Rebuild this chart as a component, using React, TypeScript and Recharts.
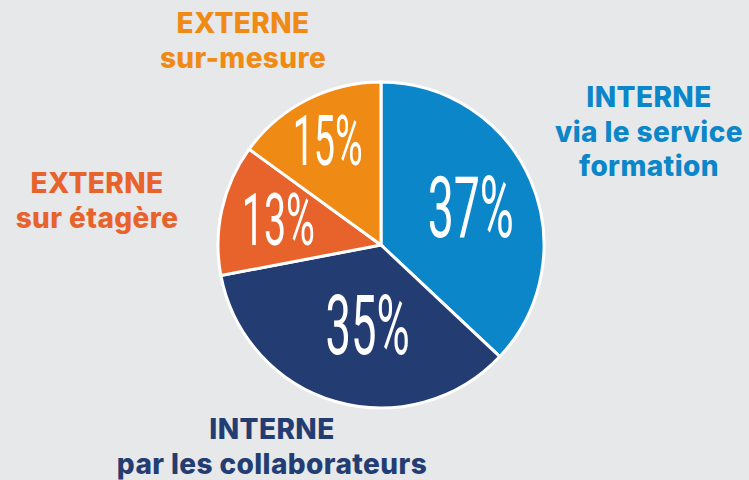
import React from "react";
import { PieChart, Pie, Cell } from "recharts";

const categories = [
  ["INTERNE", "via le service", "formation"],
  ["INTERNE", "par les collaborateurs"],
  ["EXTERNE", "sur étagère"],
  ["EXTERNE", "sur-mesure"],
];
const shares = [37, 35, 13, 15];

const COLORS = ["#0a86c9", "#233d72", "#e8632b", "#ef8b14"];
const BG = "#e7e8ea";

// per-slice placement of the percentage (fraction of radius + small nudge) and its size
const PCT_RADIUS = [0.6, 0.49, 0.645, 0.72];
const PCT_NUDGE = [
  [0, 0],
  [9, 2],
  [0, -3],
  [0, 0],
];
const PCT_SIZE = [86, 84, 73, 70];
// outside captions: centre x and first baseline
const CAPTION_POS = [
  { x: 649, y: 107 },
  { x: 272, y: 439 },
  { x: 97, y: 193 },
  { x: 243, y: 33 },
];
const LINE_H = 34.5;

const data = shares.map((v, i) => ({ name: categories[i].join(" "), value: v }));

const RAD = Math.PI / 180;

function renderLabel(props: any) {
  const { cx, cy, midAngle, outerRadius, index, value } = props;
  const r = outerRadius * PCT_RADIUS[index];
  const x = cx + r * Math.cos(-midAngle * RAD) + PCT_NUDGE[index][0];
  const y = cy + r * Math.sin(-midAngle * RAD) + PCT_NUDGE[index][1];
  const fs = PCT_SIZE[index];
  const pos = CAPTION_POS[index];
  return (
    <g key={index}>
      <text
        transform={`translate(${x},${y + fs * 0.355}) scale(0.54,1)`}
        textAnchor="middle"
        fill="#ffffff"
        fontFamily="Roboto, sans-serif"
        fontSize={fs}
        fontWeight={400}
      >
        {value}%
      </text>
      {categories[index].map((line, j) => (
        <text
          key={j}
          x={pos.x}
          y={pos.y + j * LINE_H}
          textAnchor="middle"
          fill={COLORS[index]}
          fontFamily="Inter, sans-serif"
          fontWeight={800}
          fontSize={28}
          letterSpacing={0.4}
        >
          {line}
        </text>
      ))}
    </g>
  );
}

export default function App() {
  return (
    <div
      style={{
        position: "fixed",
        left: 0,
        top: 0,
        width: 749,
        height: 480,
        background: BG,
      }}
    >
      <PieChart width={749} height={480} margin={{ top: 0, right: 0, bottom: 0, left: 0 }}>
        <Pie
          data={data}
          dataKey="value"
          cx={381}
          cy={245}
          outerRadius={163}
          startAngle={90}
          endAngle={-270}
          stroke="#ffffff"
          strokeWidth={3}
          label={renderLabel}
          labelLine={false}
          isAnimationActive={false}
        >
          {data.map((_, i) => (
            <Cell key={i} fill={COLORS[i]} />
          ))}
        </Pie>
      </PieChart>
    </div>
  );
}
